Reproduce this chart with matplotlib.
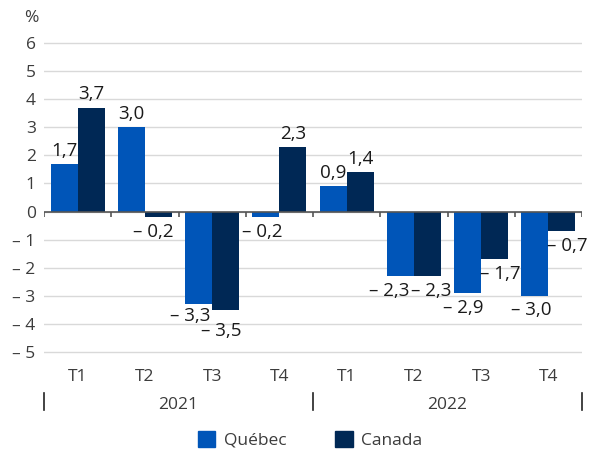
import matplotlib
matplotlib.use("Agg")
import matplotlib.pyplot as plt
import matplotlib.transforms as mtransforms
from matplotlib.patches import Patch

plt.rcParams['font.family'] = ['Open Sans', 'DejaVu Sans']

# Données
quarters = ["T1", "T2", "T3", "T4", "T1", "T2", "T3", "T4"]
years = ["2021", "2022"]
quebec = [1.7, 3.0, -3.3, -0.2, 0.9, -2.3, -2.9, -3.0]
canada = [3.7, -0.2, -3.5, 2.3, 1.4, -2.3, -1.7, -0.7]
yticks = [-5, -4, -3, -2, -1, 0, 1, 2, 3, 4, 5, 6]

c_qc = "#0055b8"
c_ca = "#002855"
txt = "#3c3c3c"

# petits décalages (dx, dy en points) des étiquettes négatives
nudge = {
    (1, "ca"): (-4, 0), (2, "qc"): (-6, 2), (2, "ca"): (-3, -5),
    (3, "qc"): (-3, 0), (5, "qc"): (-8, 0), (5, "ca"): (3, 0),
    (6, "qc"): (-3, 0), (6, "ca"): (4, 0), (7, "qc"): (-3, 0), (7, "ca"): (4, 0),
}


def fmt(v, dec=True):
    s = f"{abs(v):.1f}".replace(".", ",") if dec else str(abs(v))
    return ("\u2013 " + s) if v < 0 else s


fig = plt.figure(figsize=(5.91, 4.51), dpi=100)
ax = fig.add_axes([0.0745, 0.2009, 0.9103, 0.7224])

x = list(range(len(quarters)))
w = 0.4
ax.bar([i - w / 2 for i in x], quebec, width=w, color=c_qc, zorder=3)
ax.bar([i + w / 2 for i in x], canada, width=w, color=c_ca, zorder=3)

# étiquettes de valeurs
for i in x:
    for key, xx, v in (("qc", i - w / 2, quebec[i]), ("ca", i + w / 2, canada[i])):
        dx, dy = nudge.get((i, key), (0, 0))
        off = 3 if v >= 0 else -4
        ax.annotate(fmt(v), (xx, v), xytext=(dx, off + dy),
                    textcoords="offset points",
                    ha="center", va="bottom" if v >= 0 else "top",
                    fontsize=13.5, color="#1a1a1a", zorder=4)

ax.set_xlim(-0.5, len(quarters) - 0.5)
ax.set_ylim(-5.3, 6.3)
ax.set_yticks(yticks)
ax.set_yticklabels([fmt(t, dec=False) for t in yticks])
ax.yaxis.grid(True, color="#d9d9d9", linewidth=1, zorder=0)
ax.tick_params(axis="y", length=0, pad=6, labelsize=12.5, labelcolor=txt)
ax.set_xticks(x)
ax.set_xticklabels(quarters)
ax.tick_params(axis="x", length=0, pad=6, labelsize=12.5, labelcolor=txt)
for s in ax.spines.values():
    s.set_visible(False)

# ligne zéro et séparateurs
ax.axhline(0, color="#555555", linewidth=1.2, zorder=4)
ax.vlines([i - 0.5 for i in range(len(quarters) + 1)], -0.18, 0,
          color="#555555", linewidth=1.2, zorder=4)

# années
trans = mtransforms.blended_transform_factory(ax.transData, ax.transAxes)
for k, yr in enumerate(years):
    ax.text(4 * k + 1.5, -0.137, yr, transform=trans, ha="center", va="center",
            fontsize=12.5, color=txt)
for xs in (-0.5, 3.5, 7.5):
    ax.plot([xs, xs], [-0.101, -0.153], transform=trans, color="#222222",
            linewidth=1.2, clip_on=False)

ax.text(-0.01, 1.05, "%", transform=ax.transAxes, ha="right", va="center",
        fontsize=12.5, color=txt)

handles = [Patch(color=c_qc, label="Québec"), Patch(color=c_ca, label="Canada")]
fig.legend(handles=handles, loc="lower center", bbox_to_anchor=(0.525, -0.03), ncol=2,
           frameon=False, fontsize=12.5, handlelength=1.0, handleheight=1.0,
           columnspacing=2.8, handletextpad=0.5, labelcolor=txt)

fig.savefig("out.png", dpi=100)
